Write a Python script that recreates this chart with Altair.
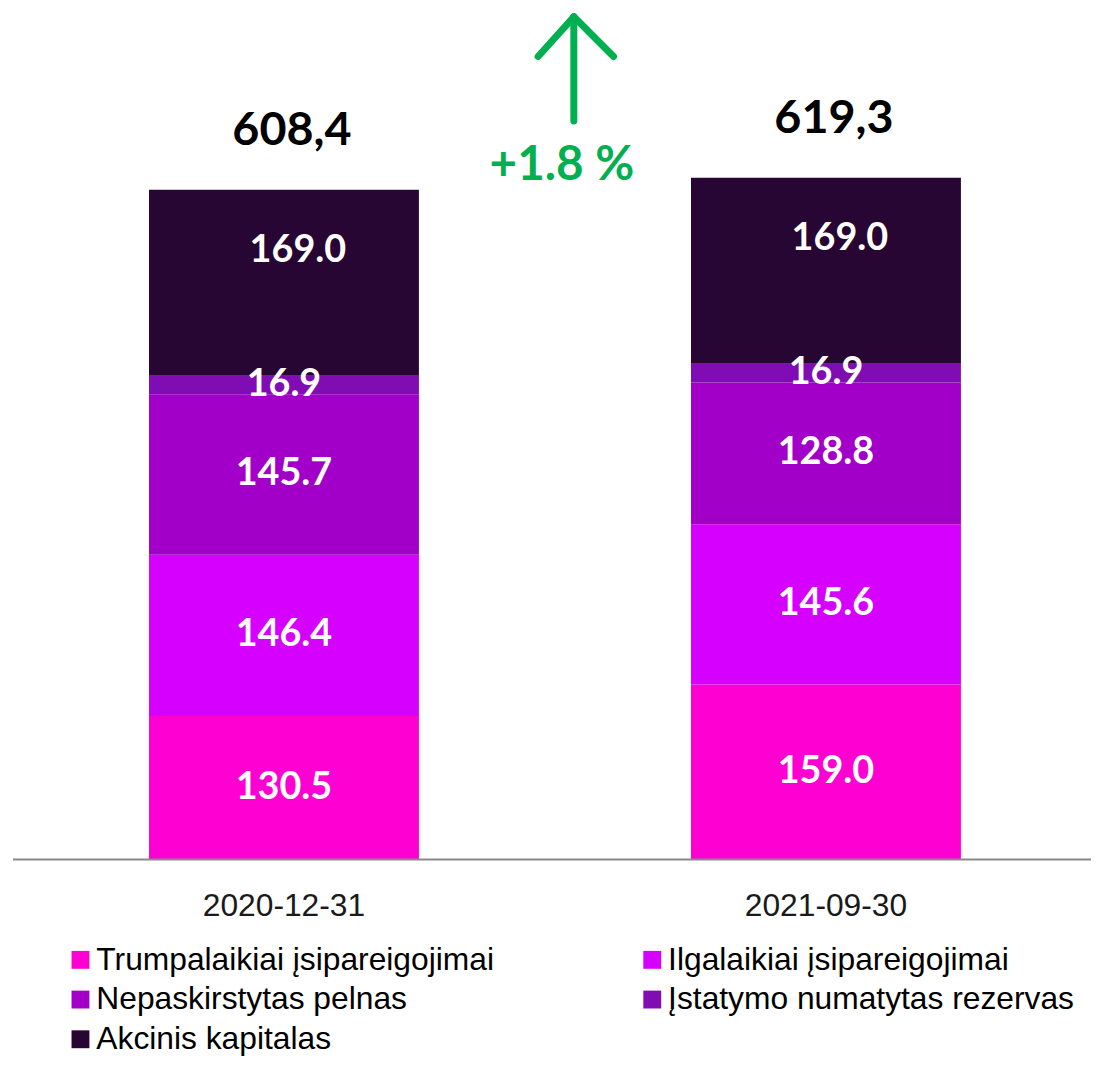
import altair as alt
import pandas as pd

dates = ["2020-12-31", "2021-09-30"]
categories = [
    "Trumpalaikiai įsipareigojimai",
    "Ilgalaikiai įsipareigojimai",
    "Nepaskirstytas pelnas",
    "Įstatymo numatytas rezervas",
    "Akcinis kapitalas",
]
values_2020 = [130.5, 146.4, 145.7, 16.9, 169.0]
values_2021 = [159.0, 145.6, 128.8, 16.9, 169.0]
total_labels = ["608,4", "619,3"]
change_label = "+1.8 %"
colors = ["#FF00D2", "#D600FF", "#A200C8", "#800CB4", "#280634"]
green = "#00B050"

rows = []
for d, vals in zip(dates, [values_2020, values_2021]):
    lo = 0.0
    for i, (c, v) in enumerate(zip(categories, vals)):
        rows.append({"date": d, "category": c, "idx": i, "value": v,
                     "lo": lo, "hi": lo + v, "mid": lo + v / 2,
                     "label": f"{v:.1f}", "top": i == len(vals) - 1})
        lo += v
df = pd.DataFrame(rows)
tot = df.groupby("date", as_index=False)["hi"].max()
tot["label"] = total_labels

W, H = 1080, 854
xscale = alt.Scale(domain=dates, paddingInner=0.502, paddingOuter=0.24)
yscale = alt.Scale(domain=[0, 770])
X = alt.X("date:N", scale=xscale, sort=dates, title=None,
          axis=alt.Axis(labelAngle=0, ticks=False, domain=False,
                        labelFont="Liberation Sans", labelFontSize=32, labelColor="#1a1a1a",
                        labelPadding=31))

bars = alt.Chart(df).mark_bar().encode(
    x=X,
    y=alt.Y("lo:Q", scale=yscale, axis=None),
    y2="hi:Q",
    color=alt.Color("category:N", scale=alt.Scale(domain=categories, range=colors),
                    legend=alt.Legend(title=None, orient="none", legendX=46, legendY=939,
                                      direction="horizontal",
                                      columns=2, columnPadding=143, rowPadding=8,
                                      symbolType="square", symbolSize=324, symbolStrokeWidth=0,
                                      labelFont="Liberation Sans", labelFontSize=32,
                                      labelColor="#000", labelOffset=0, labelLimit=700)),
    order="idx:Q",
)

baseline = alt.Chart(pd.DataFrame({"v": [0]})).mark_rule(color="#898989", strokeWidth=2).encode(
    y=alt.Y("v:Q", scale=yscale), x=alt.value(-6), x2=alt.value(W)
)

seg_labels = alt.Chart(df).transform_filter("!datum.top").mark_text(
    font="Lato", fontWeight="bold", fontSize=38, color="white", baseline="middle"
).encode(x=X, y=alt.Y("mid:Q", scale=yscale), text="label:N")

top_labels = alt.Chart(df).transform_filter("datum.top").mark_text(
    font="Lato", fontWeight="bold", fontSize=38, color="white", baseline="middle", dy=-32, dx=14
).encode(x=X, y=alt.Y("mid:Q", scale=yscale), text="label:N")

totals = alt.Chart(tot).mark_text(
    font="Lato", fontWeight="bold", fontSize=47, color="black", baseline="alphabetic",
    dy=-45, dx=8
).encode(x=X, y=alt.Y("hi:Q", scale=yscale), text="label:N")

arrow_df = pd.DataFrame({
    "x": [559, 523, 599], "y": [110, 45, 45],
    "x2": [559, 559, 559], "y2": [5, 5, 5],
})
arrow = alt.Chart(arrow_df).mark_rule(color=green, strokeWidth=7, strokeCap="round").encode(
    x=alt.X("x:Q", scale=None), y=alt.Y("y:Q", scale=None),
    x2="x2:Q", y2="y2:Q",
)
change = alt.Chart(pd.DataFrame({"t": [change_label]})).mark_text(
    font="Lato", fontWeight="bold", fontSize=48, color=green, baseline="middle"
).encode(x=alt.value(547), y=alt.value(155), text="t:N")

chart = alt.layer(bars, baseline, seg_labels, top_labels, totals, arrow, change).properties(
    width=W, height=H,
    padding={"left": 11, "top": 0, "right": 0, "bottom": 197},
    autosize=alt.AutoSizeParams(type="none"),
).configure_view(stroke=None)

chart.save("out.html", embed_options={"renderer": "svg", "actions": False})
